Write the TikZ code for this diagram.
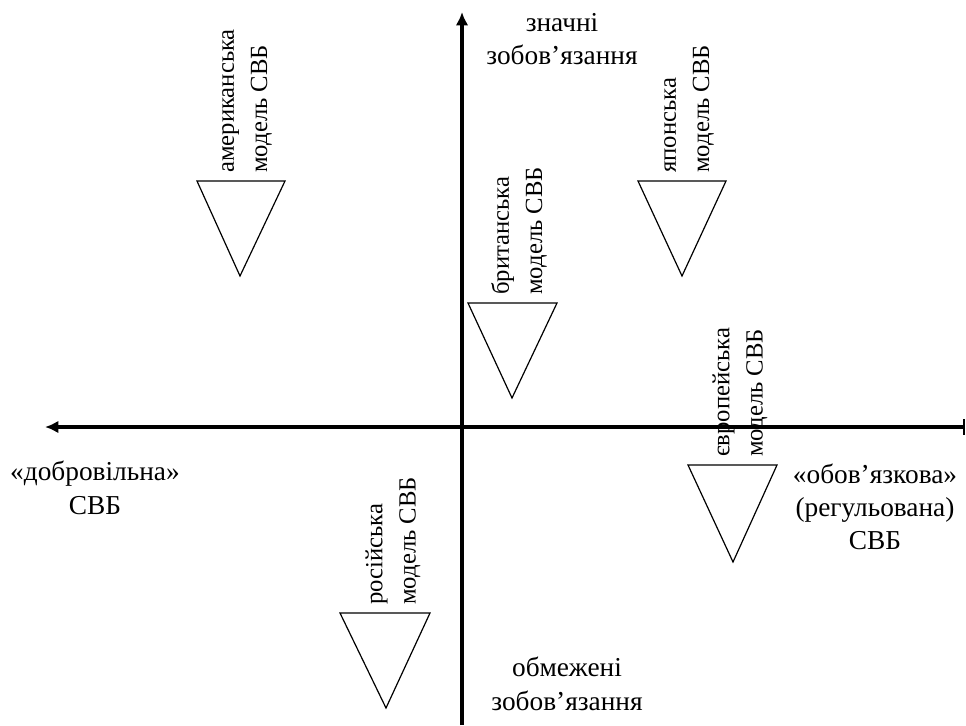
\documentclass[tikz,border=0pt]{standalone}
\usepackage{fontspec}
\setmainfont{Liberation Serif}
\usetikzlibrary{arrows.meta}
\tikzset{
  axis/.style={line width=3.4pt,-{Latex[length=10pt,width=9.5pt]}},
  model/.style={draw,line width=0.9pt},
  modeltext/.style={rotate=90,anchor=west,align=left,inner sep=0pt,
    font=\fontsize{18.5}{25}\selectfont},
  label/.style={align=center,font=\fontsize{20.5}{25}\selectfont}
}
\begin{document}
\begin{tikzpicture}[x=0.75pt,y=-0.75pt]
  \useasboundingbox (0,0) rectangle (966,725);
  % axes
  \coordinate (left) at (45,427);
  \coordinate (right) at (965,427);
  \coordinate (top) at (462,12);
  \coordinate (bottom) at (462,725);
  \draw[axis] (right) -- (left);
  \draw[axis] (bottom) -- (top);
  \draw[line width=0.8pt] (964,419) -- (964,435);
  % axis labels
  \node[label] (high) at (562,39) {значні\\зобов’язання};
  \node[label] (low) at (567,684) {обмежені\\зобов’язання};
  \node[label] (volunt) at (95,488) {«добровільна»\\СВБ};
  \node[label] (oblig) at (875,507) {«обов’язкова»\\(регульована)\\СВБ};
  % american model
  \draw[model] (197,181) -- (285,181) -- (240,276) -- cycle;
  \node[modeltext] (amer) at (247,173) {американська\\модель СВБ};
  % japanese model
  \draw[model] (638,181) -- (726,181) -- (682,276) -- cycle;
  \node[modeltext] (japan) at (689,173) {японська\\модель СВБ};
  % british model
  \draw[model] (468,303) -- (557,303) -- (512,398) -- cycle;
  \node[modeltext] (brit) at (519,295) {британська\\модель СВБ};
  % european model
  \draw[model] (688,465) -- (777,465) -- (733,562) -- cycle;
  \node[modeltext] (europe) at (740,457) {європейська\\модель СВБ};
  % russian model
  \draw[model] (340,613) -- (430,613) -- (386,708) -- cycle;
  \node[modeltext] (russia) at (393,605) {російська\\модель СВБ};
\end{tikzpicture}
\end{document}
